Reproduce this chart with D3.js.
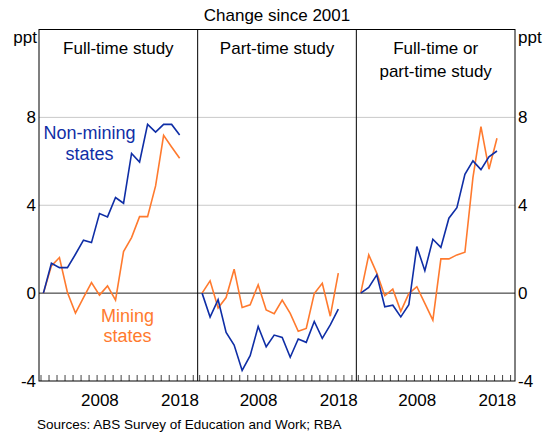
<!DOCTYPE html>
<html>
  <head>
    <script src="https://cdn.jsdelivr.net/npm/d3@7"></script>
    <style>
      body { margin: 0; background: #fff; }
      text { font-family: "Liberation Sans", Arial, sans-serif; }
    </style>
  </head>
  <body>
    <svg width="548" height="435"></svg>
    <script>
      // years of the survey, one point per year
      var years = d3.range(2001, 2019);

      var panelTitles = [["Full-time study"], ["Part-time study"], ["Full-time or", "part-time study"]];

      // change since 2001, ppt
      var nonMiningFull = [0, 1.36, 1.16, 1.16, 1.77, 2.41, 2.3, 3.62, 3.47, 4.35, 4.09, 6.36, 5.97, 7.68, 7.33, 7.68, 7.68, 7.2];
      var miningFull = [0, 1.24, 1.62, 0.03, -0.91, -0.2, 0.48, -0.09, 0.33, -0.32, 1.89, 2.53, 3.48, 3.48, 4.88, 7.18, 6.65, 6.14];

      var nonMiningPart = [0, -1.09, -0.3, -1.79, -2.36, -3.52, -2.85, -1.52, -2.44, -1.91, -2.02, -2.92, -2.09, -2.24, -1.29, -2.06, -1.45, -0.73];
      var miningPart = [0, 0.56, -0.68, -0.2, 1.09, -0.65, -0.53, 0.38, -0.77, -0.94, -0.32, -0.92, -1.74, -1.61, -0.02, 0.45, -1.05, 0.91];

      var nonMiningAny = [0, 0.26, 0.83, -0.62, -0.55, -1.08, -0.53, 2.12, 1.02, 2.45, 2.08, 3.41, 3.89, 5.41, 6.02, 5.62, 6.2, 6.47];
      var miningAny = [0, 1.74, 0.91, -0.12, 0.18, -0.83, -0.02, 0.29, -0.47, -1.23, 1.56, 1.56, 1.74, 1.86, 5.26, 7.58, 5.64, 7.05];

      var yTicks = [-4, 0, 4, 8];
      var yearLabels = [2008, 2018];

      var blue = "#0f2ea6";
      var orange = "#ff7a2e";

      var svg = d3.select("svg");
      var plotLeft = 39, plotRight = 515, plotTop = 29.5, plotBottom = 381;
      var panelW = (plotRight - plotLeft) / 3;

      var yScale = d3.scaleLinear().domain([-4, 12]).range([plotBottom, plotTop]);

      var panels = [
        { nm: nonMiningFull, m: miningFull },
        { nm: nonMiningPart, m: miningPart },
        { nm: nonMiningAny, m: miningAny }
      ];

      // gridlines across full width
      svg.selectAll(".grid")
        .data([4, 8])
        .enter()
        .append("line")
        .attr("x1", plotLeft)
        .attr("x2", plotRight)
        .attr("y1", (d) => yScale(d))
        .attr("y2", (d) => yScale(d))
        .attr("stroke", "#c9c9c9")
        .attr("stroke-width", 1);

      svg.append("line")
        .attr("x1", plotLeft)
        .attr("x2", plotRight)
        .attr("y1", yScale(0))
        .attr("y2", yScale(0))
        .attr("stroke", "#222")
        .attr("stroke-width", 1);

      panels.forEach((p, i) => {
        var x0 = plotLeft + i * panelW;
        var xScale = d3.scaleLinear().domain([2000.75, 2020.55]).range([x0, x0 + panelW]);
        var g = svg.append("g");

        // minor ticks along the bottom
        g.selectAll(".tick")
          .data(d3.range(2001, 2021))
          .enter()
          .append("line")
          .attr("x1", (d) => xScale(d))
          .attr("x2", (d) => xScale(d))
          .attr("y1", plotBottom)
          .attr("y2", plotBottom - 6)
          .attr("stroke", "#444")
          .attr("stroke-width", 1);

        g.selectAll(".yl")
          .data(yearLabels)
          .enter()
          .append("text")
          .attr("x", (d) => xScale(d + 0.35))
          .attr("y", 406)
          .attr("text-anchor", "middle")
          .attr("font-size", 17)
          .text((d) => d);

        var line = d3.line()
          .x((d, j) => xScale(years[j] + 0.3))
          .y((d) => yScale(d));

        g.append("path")
          .attr("d", line(p.m))
          .attr("fill", "none")
          .attr("stroke", orange)
          .attr("stroke-width", 1.6)
          .attr("stroke-linejoin", "miter");

        g.append("path")
          .attr("d", line(p.nm))
          .attr("fill", "none")
          .attr("stroke", blue)
          .attr("stroke-width", 1.6)
          .attr("stroke-linejoin", "miter");

        g.append("text")
          .attr("x", x0 + panelW / 2)
          .attr("y", 54)
          .attr("text-anchor", "middle")
          .attr("font-size", 17)
          .selectAll("tspan")
          .data(panelTitles[i])
          .enter()
          .append("tspan")
          .attr("x", x0 + panelW / 2)
          .attr("dy", (d, k) => (k === 0 ? 0 : 23))
          .text((d) => d);
      });

      // frame and panel dividers
      svg.append("rect")
        .attr("x", plotLeft)
        .attr("y", plotTop)
        .attr("width", plotRight - plotLeft)
        .attr("height", plotBottom - plotTop)
        .attr("fill", "none")
        .attr("stroke", "#000")
        .attr("stroke-width", 1);

      svg.selectAll(".div")
        .data([1, 2])
        .enter()
        .append("line")
        .attr("x1", (d) => plotLeft + d * panelW)
        .attr("x2", (d) => plotLeft + d * panelW)
        .attr("y1", plotTop)
        .attr("y2", plotBottom)
        .attr("stroke", "#000")
        .attr("stroke-width", 1);

      // y labels both sides
      svg.selectAll(".yL")
        .data(yTicks)
        .enter()
        .append("text")
        .attr("x", plotLeft - 3)
        .attr("y", (d) => yScale(d))
        .attr("dy", "0.36em")
        .attr("text-anchor", "end")
        .attr("font-size", 17)
        .text((d) => d);

      svg.selectAll(".yR")
        .data(yTicks)
        .enter()
        .append("text")
        .attr("x", plotRight + 3)
        .attr("y", (d) => yScale(d))
        .attr("dy", "0.36em")
        .attr("text-anchor", "start")
        .attr("font-size", 17)
        .text((d) => d);

      svg.append("text").attr("x", plotLeft - 2).attr("y", 43).attr("text-anchor", "end").attr("font-size", 17).text("ppt");
      svg.append("text").attr("x", plotRight + 3).attr("y", 43).attr("text-anchor", "start").attr("font-size", 17).text("ppt");

      svg.append("text")
        .attr("x", (plotLeft + plotRight) / 2)
        .attr("y", 21)
        .attr("text-anchor", "middle")
        .attr("font-size", 17)
        .text("Change since 2001");

      // series labels
      svg.append("text")
        .attr("text-anchor", "middle")
        .attr("font-size", 18)
        .attr("fill", blue)
        .selectAll("tspan")
        .data(["Non-mining", "states"])
        .enter()
        .append("tspan")
        .attr("x", 89.5)
        .attr("y", (d, k) => 139 + k * 21)
        .text((d) => d);

      svg.append("text")
        .attr("text-anchor", "middle")
        .attr("font-size", 18)
        .attr("fill", orange)
        .selectAll("tspan")
        .data(["Mining", "states"])
        .enter()
        .append("tspan")
        .attr("x", 127.5)
        .attr("y", (d, k) => 321.5 + k * 20.5)
        .text((d) => d);

      svg.append("text")
        .attr("x", 37)
        .attr("y", 429)
        .attr("font-size", 13.5)
        .text("Sources: ABS Survey of Education and Work; RBA");
    </script>
  </body>
</html>
